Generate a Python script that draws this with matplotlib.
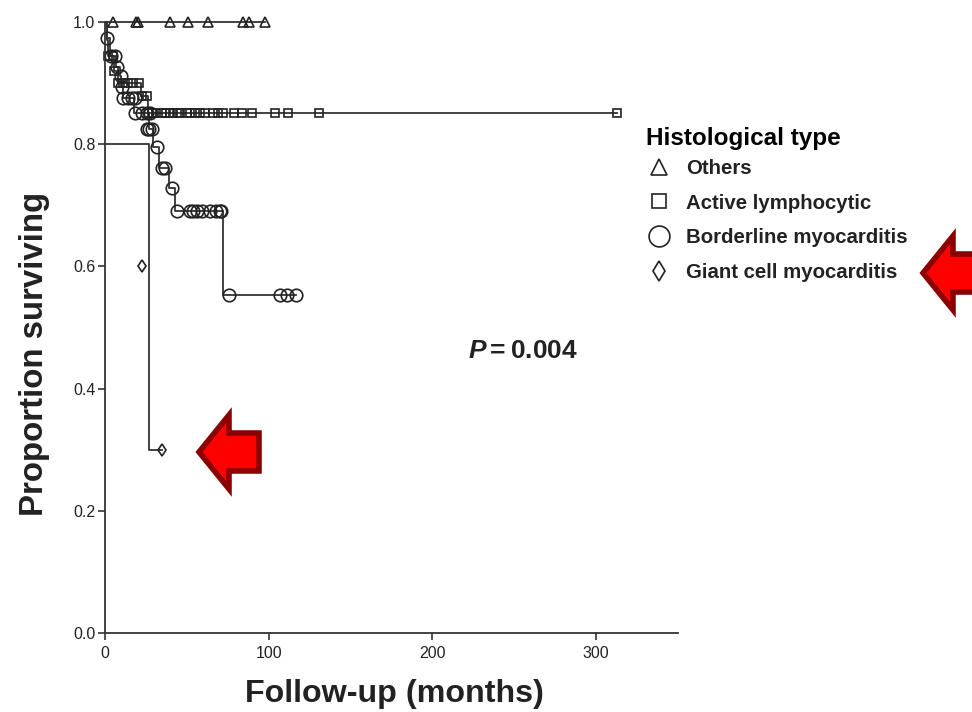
import matplotlib
matplotlib.use("Agg")
import matplotlib.pyplot as plt
from matplotlib.lines import Line2D
from matplotlib.patches import Polygon

plt.rcParams['font.family'] = ['Liberation Sans', 'DejaVu Sans']
plt.rcParams['mathtext.fontset'] = 'custom'
plt.rcParams['mathtext.it'] = 'Liberation Sans:italic:bold'

# step curves
others_t = [0, 98]
others_s = [1.0, 1.0]
active_t = [0, 1, 2, 5.5, 8, 22, 26, 313]
active_s = [1.0, 0.97, 0.944, 0.92, 0.90, 0.879, 0.851, 0.851]
border_t = [0, 1, 3, 7, 9, 10, 11, 18, 27, 29.5, 33, 39, 43, 72, 116.5]
border_s = [1.0, 0.973, 0.944, 0.926, 0.912, 0.893, 0.875, 0.851, 0.825, 0.795,
            0.761, 0.728, 0.691, 0.553, 0.553]
giant_t = [0, 27, 35]
giant_s = [0.8, 0.3, 0.3]

# censored marks
others_cx = [5, 19, 20, 40, 51, 63, 84, 88, 98]
others_cy = [1.0] * 9
active_cx = [2, 5, 5.5, 8, 11, 14, 17, 21, 22.5, 25.5,
             26, 29, 31, 35, 37, 40, 41.5, 44, 46, 50, 52, 55, 58, 61, 66, 69, 72,
             79, 83.5, 90, 104, 112, 130.5, 313]
active_cy = [0.944, 0.944, 0.92, 0.90, 0.90, 0.90, 0.90, 0.90, 0.879, 0.879] + [0.851] * 24
border_cx = [1, 3.5, 6, 7.5, 9.5, 10.5, 11, 14, 16.5, 18.5, 18.5, 22.5, 25.5, 27.5,
             25.5, 27, 28.5, 32, 35, 36.5, 41, 44, 52, 54, 56, 59, 64, 68, 70, 71,
             76, 107, 111, 116.5]
border_cy = [0.973, 0.944, 0.944, 0.926, 0.912, 0.893, 0.875, 0.875, 0.875, 0.875,
             0.851, 0.851, 0.851, 0.851, 0.825, 0.825, 0.825, 0.795, 0.761, 0.761,
             0.728, 0.691, 0.691, 0.691, 0.691, 0.691, 0.691, 0.691, 0.691, 0.691,
             0.553, 0.553, 0.553, 0.553]
giant_cx = [22.5, 35]
giant_cy = [0.6, 0.3]

legend_labels = ['Others', 'Active lymphocytic', 'Borderline myocarditis', 'Giant cell myocarditis']

W, H = 972, 712
fig = plt.figure(figsize=(W / 100, H / 100), dpi=100)
ax = fig.add_axes([105 / W, (H - 633) / H, (678 - 105) / W, (633 - 22) / H])

lc = '#333333'
ax.plot(others_t, others_s, drawstyle='steps-post', color=lc, lw=1.3, clip_on=False)
ax.plot(active_t, active_s, drawstyle='steps-post', color=lc, lw=1.3, clip_on=False)
ax.plot(border_t, border_s, drawstyle='steps-post', color=lc, lw=1.3, clip_on=False)
ax.plot(giant_t, giant_s, drawstyle='steps-post', color=lc, lw=1.3, clip_on=False)

ax.plot(others_cx, others_cy, ls='', marker='^', ms=6.5, mfc='none', mec='#222222', mew=1.2, clip_on=False)
ax.plot(active_cx, active_cy, ls='', marker='s', ms=5.5, mfc='none', mec='#222222', mew=1.2, clip_on=False)
ax.plot(border_cx, border_cy, ls='', marker='o', ms=9, mfc='none', mec='#222222', mew=1.2, clip_on=False)
ax.plot(giant_cx, giant_cy, ls='', marker='d', ms=6.5, mew=1.2, mfc='none', mec='#222222', clip_on=False)

ax.set_xlim(0, 350)
ax.set_ylim(0, 1.0)
ax.set_xticks([0, 100, 200, 300])
ax.set_yticks([0, 0.2, 0.4, 0.6, 0.8, 1.0])
ax.set_yticklabels(['0.0', '0.2', '0.4', '0.6', '0.8', '1.0'])
ax.spines['top'].set_visible(False)
ax.spines['right'].set_visible(False)
ax.spines['left'].set_color(lc)
ax.spines['bottom'].set_color(lc)
ax.spines['left'].set_linewidth(1.3)
ax.spines['bottom'].set_linewidth(1.3)
ax.tick_params(axis='both', labelsize=11.5, length=5, width=1.2, color=lc, labelcolor='#222222')
ax.tick_params(axis='x', pad=4)
ax.tick_params(axis='y', pad=2)

fig.text(394 / W, 1 - 694 / H, 'Follow-up (months)', ha='center', va='center',
         fontsize=23.2, fontweight='bold', color='#222222')
fig.text(34 / W, 1 - 354 / H, 'Proportion surviving', ha='center', va='center', rotation=90,
         fontsize=23.8, fontweight='bold', color='#222222')
fig.text(523 / W, 1 - 351 / H, '$\\mathit{P}\\,$=\u20090.004', ha='center', va='center',
         fontsize=19, fontweight='bold', color='#222222')

# legend
handles = [
    Line2D([], [], ls='', marker='^', ms=11, mfc='none', mec='#222222', mew=1.2),
    Line2D([], [], ls='', marker='s', ms=10, mfc='none', mec='#222222', mew=1.2),
    Line2D([], [], ls='', marker='o', ms=15, mfc='none', mec='#222222', mew=1.2),
    Line2D([], [], ls='', marker='d', ms=10, mfc='none', mec='#222222', mew=1.2),
]
leg = fig.legend(handles, legend_labels, loc='upper left', bbox_to_anchor=(646 / W, 1 - 127 / H),
                 frameon=False, prop={'weight': 'bold', 'size': 14.7}, labelcolor='#222222',
                 title='Histological type', title_fontproperties={'weight': 'bold', 'size': 17.5},
                 labelspacing=0.77, handletextpad=0.69, handlelength=1.27, alignment='left',
                 borderpad=0, borderaxespad=0)
# title sits closer to the rows than the row spacing
leg._legend_box.sep = 6.4

# red arrows
def arrow(tip_x, tip_y, head_x, half_h, shaft_x, half_s):
    pts = [(tip_x, tip_y), (head_x, tip_y - half_h), (head_x, tip_y - half_s), (shaft_x, tip_y - half_s),
           (shaft_x, tip_y + half_s), (head_x, tip_y + half_s), (head_x, tip_y + half_h)]
    pts = [(x / W, 1 - y / H) for x, y in pts]
    fig.add_artist(Polygon(pts, closed=True, transform=fig.transFigure, fc='#ff0000', ec='#8b0000', lw=4, joinstyle='miter'))

arrow(199, 452, 229, 37, 259, 19)
arrow(923, 273, 953, 37, 990, 19)

fig.savefig('out.png', dpi=100)
